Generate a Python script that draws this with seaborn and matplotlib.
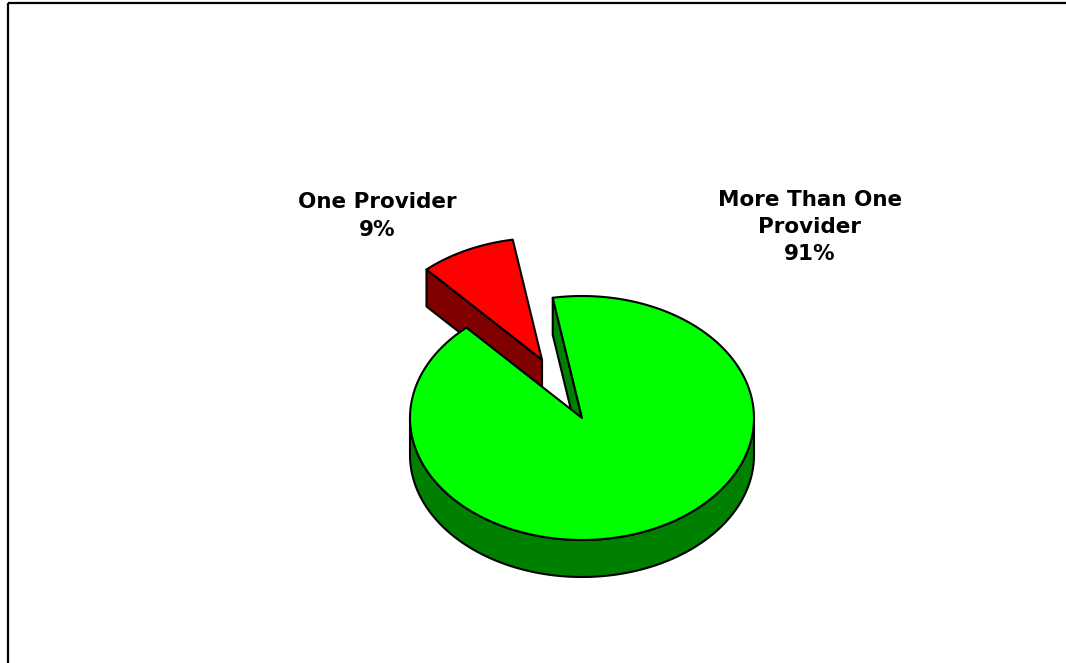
import numpy as np
import matplotlib
matplotlib.use("Agg")
import matplotlib.pyplot as plt
from matplotlib.patches import Polygon, Rectangle
import seaborn as sns

# Survey result: number of providers used
labels = ["One Provider", "More Than One\nProvider"]
shares = [9, 91]
top_colors = ["#FF0000", "#00FF00"]
side_colors = ["#800000", "#008000"]
explode = [0.53, 0.0]

sns.set_theme(style="white")
plt.rcParams["font.family"] = ["DejaVu Sans"]

W, H = 1066, 663
fig = plt.figure(figsize=(W / 100, H / 100), dpi=100)
ax = fig.add_axes([0, 0, 1, 1])
ax.set_xlim(0, W)
ax.set_ylim(H, 0)
ax.axis("off")

# pie geometry (screen units, y grows downward)
cx, cy, rx, ry, depth = 582, 418, 172, 122, 37
start = 132.2          # slices run clockwise from this angle
EDGE = dict(edgecolor="black", linewidth=1.5, joinstyle="round")


def arc(t0, t1, ox, oy, dz=0, n=200):
    t = np.radians(np.linspace(t0, t1, n))
    return np.column_stack([cx + ox + rx * np.cos(t), cy + oy - ry * np.sin(t) + dz])


fracs = np.array(shares, dtype=float) / np.sum(shares)
slices = []
acc = 0.0
for i, f in enumerate(fracs):
    a1 = start - acc * 360
    a0 = a1 - f * 360
    acc += f
    mid = np.radians((a0 + a1) / 2)
    ox = explode[i] * rx * np.cos(mid)
    oy = -explode[i] * ry * np.sin(mid)
    slices.append((i, a0, a1, ox, oy))

# far slices first
for i, a0, a1, ox, oy in sorted(slices, key=lambda s: s[4]):
    c = np.array([cx + ox, cy + oy])
    down = np.array([0, depth])
    # radial walls that face the viewer
    for a, normal in ((a1, a1 + 90), (a0, a0 - 90)):
        if np.sin(np.radians(normal)) < 0:
            p = arc(a, a, ox, oy, n=1)[0]
            ax.add_patch(Polygon([c, p, p + down, c + down], closed=True,
                                 facecolor=side_colors[i], **EDGE))
    # curved outer side on the front half
    k0 = int(np.floor(a0 / 360)) - 1
    k1 = int(np.ceil(a1 / 360)) + 1
    for k in range(k0, k1 + 1):
        s0 = max(a0, 360 * k - 180)
        s1 = min(a1, 360 * k)
        if s1 > s0:
            top = arc(s0, s1, ox, oy)
            bot = arc(s0, s1, ox, oy, dz=depth)[::-1]
            ax.add_patch(Polygon(np.vstack([top, bot]), closed=True,
                                 facecolor=side_colors[i], **EDGE))
    # top face
    ax.add_patch(Polygon(np.vstack([c, arc(a0, a1, ox, oy)]), closed=True,
                         facecolor=top_colors[i], **EDGE))

# data labels
label_pos = [(377, 216), (810, 227)]
for (x, y), lab, v in zip(label_pos, labels, shares):
    ax.text(x, y, f"{lab}\n{v}%", ha="center", va="center", fontsize=15.5,
            fontweight="bold", color="black", linespacing=1.45)

# chart area frame
ax.add_patch(Rectangle((8, 3), W, H, fill=False, edgecolor="black", linewidth=1.6))

fig.savefig("out.png", dpi=100)
